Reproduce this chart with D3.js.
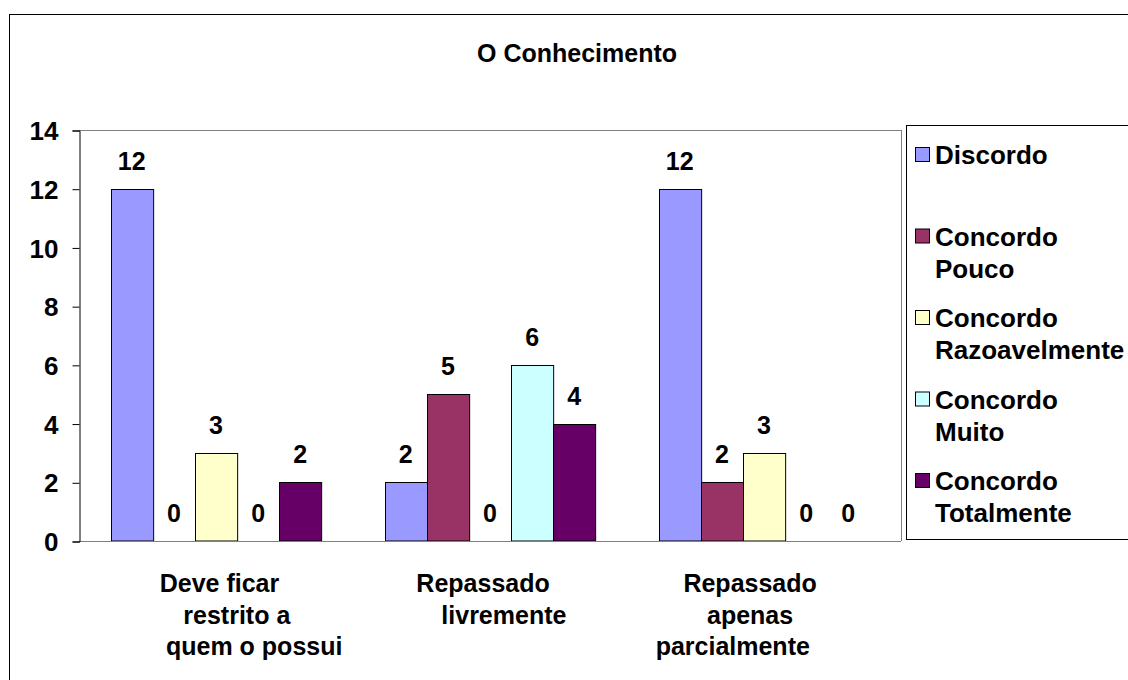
<!DOCTYPE html>
<html>
<head>
<meta charset="utf-8">
<script src="https://cdn.jsdelivr.net/npm/d3@7"></script>
<style>
  html, body { margin: 0; padding: 0; background: #fff; }
  svg { display: block; }
  text { font-family: "Liberation Sans", Arial, sans-serif; font-weight: bold; fill: #000; white-space: pre; }
</style>
</head>
<body>
<svg id="chart" width="1128" height="680"></svg>
<script>
const title = "O Conhecimento";
const categories = ["Deve ficar restrito a quem o possui", "Repassado livremente", "Repassado apenas parcialmente"];
const categoryLines = [
  [" Deve ficar", "      restrito a", "           quem o possui"],
  ["Repassado  ", "    livremente"],
  ["Repassado    ", "apenas    ", "parcialmente         "]
];
const seriesNames = ["Discordo", "Concordo Pouco", "Concordo Razoavelmente", "Concordo Muito", "Concordo Totalmente"];
const legendLines = [["Discordo"], ["Concordo", "Pouco"], ["Concordo", "Razoavelmente"], ["Concordo", "Muito"], ["Concordo", "Totalmente"]];
const seriesColors = ["#9999FF", "#993366", "#FFFFCC", "#CCFFFF", "#660066"];
const discordo = [12, 2, 12];
const concordoPouco = [0, 5, 2];
const concordoRazoavelmente = [3, 0, 3];
const concordoMuito = [0, 6, 0];
const concordoTotalmente = [2, 4, 0];
const seriesValues = [discordo, concordoPouco, concordoRazoavelmente, concordoMuito, concordoTotalmente];
const yTicks = [0, 2, 4, 6, 8, 10, 12, 14];

const svg = d3.select("#chart");
const FS = 25;

// outer chart border
svg.append("rect").attr("x", 9.5).attr("y", 14.5).attr("width", 1200).attr("height", 700)
  .attr("fill", "none").attr("stroke", "#000").attr("stroke-width", 1);

// title
svg.append("text").attr("x", 577).attr("y", 62).attr("text-anchor", "middle")
  .attr("font-size", FS).text(title);

const plot = { left: 79, right: 901, top: 130, bottom: 541 };

const x0 = d3.scaleBand().domain(categories).range([plot.left, plot.right]).paddingInner(0).paddingOuter(0);
const x1 = d3.scaleBand().domain(seriesNames).range([0, x0.bandwidth()]).paddingInner(0).paddingOuter(0.75);
const y = d3.scaleLinear().domain([0, 14]).range([plot.bottom, plot.top]);

// plot border (top/right gray)
svg.append("line").attr("x1", plot.left).attr("x2", plot.right).attr("y1", plot.top + 0.5).attr("y2", plot.top + 0.5)
  .attr("stroke", "#808080");
svg.append("line").attr("x1", plot.right + 0.5).attr("x2", plot.right + 0.5).attr("y1", plot.top).attr("y2", plot.bottom)
  .attr("stroke", "#808080");

// bars
const rows = [];
categories.forEach((c, ci) => seriesNames.forEach((s, si) => rows.push({ c, s, si, v: seriesValues[si][ci] })));

svg.append("g").selectAll("rect").data(rows.filter(d => d.v > 0)).join("rect")
  .attr("x", d => Math.round(x0(d.c) + x1(d.s)) + 0.5)
  .attr("y", d => Math.round(y(d.v)) + 0.5)
  .attr("width", x1.bandwidth())
  .attr("height", d => y(0) - Math.round(y(d.v)) - 0.5)
  .attr("fill", d => seriesColors[d.si])
  .attr("stroke", "#000").attr("stroke-width", 1);

// value labels
svg.append("g").selectAll("text").data(rows).join("text")
  .attr("x", d => x0(d.c) + x1(d.s) + x1.bandwidth() / 2)
  .attr("y", d => y(d.v) - 19)
  .attr("text-anchor", "middle").attr("font-size", FS)
  .text(d => d.v);

// bottom axis line (gray)
svg.append("line").attr("x1", plot.left).attr("x2", plot.right).attr("y1", plot.bottom + 0.5).attr("y2", plot.bottom + 0.5)
  .attr("stroke", "#808080");

// y axis
const yAxis = d3.axisLeft(y).tickValues(yTicks).tickSize(7).tickPadding(14).tickFormat(d3.format("d"));
const gy = svg.append("g").attr("transform", `translate(${plot.left + 0.5},0.5)`).call(yAxis);
gy.select(".domain").attr("stroke", "#000");
gy.selectAll(".tick line").attr("stroke", "#000");
gy.selectAll(".tick text").attr("font-size", 26).attr("font-family", null).attr("dy", "0.35em").attr("fill", "#000");

// category labels
const lineGap = 31.5;
categories.forEach((c, ci) => {
  const cx = x0(c) + x0.bandwidth() / 2;
  const t = svg.append("text").attr("text-anchor", "middle").attr("font-size", FS);
  categoryLines[ci].forEach((ln, li) => {
    t.append("tspan").attr("x", cx).attr("y", 592 + li * lineGap).text(ln);
  });
});

// legend
const lg = { x: 906, y: 125, w: 260, h: 414 };
svg.append("rect").attr("x", lg.x + 0.5).attr("y", lg.y + 0.5).attr("width", lg.w).attr("height", lg.h)
  .attr("fill", "#fff").attr("stroke", "#000");
const entryGap = 81.5;
legendLines.forEach((lines, i) => {
  const cy = 155 + i * entryGap;
  svg.append("rect").attr("x", 915.5).attr("y", cy - 7.5).attr("width", 14).attr("height", 14)
    .attr("fill", seriesColors[i]).attr("stroke", "#000");
  const t = svg.append("text").attr("font-size", 26);
  lines.forEach((ln, li) => {
    t.append("tspan").attr("x", 935).attr("y", cy + 9 + li * 32).text(ln);
  });
});
</script>
</body>
</html>
